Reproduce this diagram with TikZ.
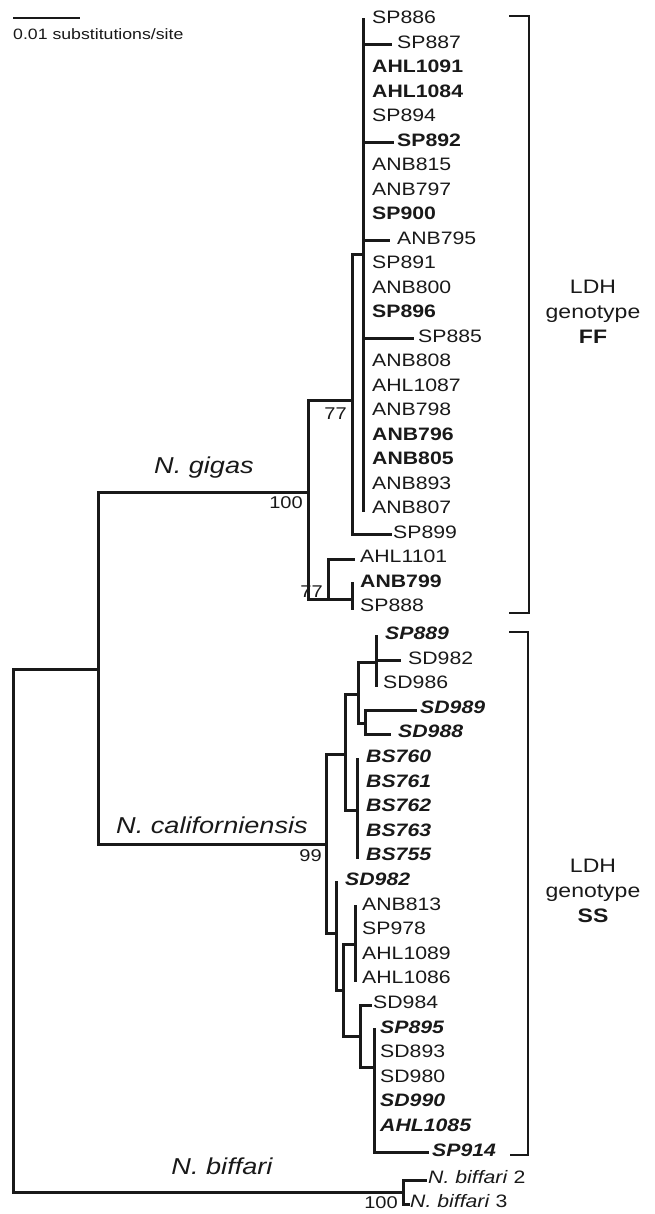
\documentclass[tikz,border=0pt]{standalone}
\usepackage{fontspec}
\setmainfont{Liberation Sans}[FakeStretch=1.18]
\newcommand{\bfit}{\bfseries\itshape}
\begin{document}
\begin{tikzpicture}[x=1pt,y=-1pt,
  br/.style={line width=3pt, line join=miter, line cap=rect, color=black!90},
  bk/.style={line width=2.6pt, line join=miter, color=black!90},
  leaf/.style={anchor=west, inner sep=0pt, text height=0.72em, text depth=0pt, font=\fontsize{18}{20}\selectfont, text=black!90},
  boot/.style={anchor=east, inner sep=0pt, text height=0.72em, text depth=0pt, font=\fontsize{17}{18}\selectfont, text=black!90},
  spec/.style={inner sep=0pt, font=\fontsize{23}{26}\selectfont\itshape, text=black!90},
  ldh/.style={inner sep=0pt, align=center, font=\fontsize{19.5}{25}\selectfont, text=black!90}]
\useasboundingbox (0,0) rectangle (655,1214);
% scale bar
\coordinate (sb1) at (13,18);
\coordinate (sb2) at (80,18);
\draw[line width=2.2pt, black!90] (sb1) -- (sb2);
\node[anchor=west, inner sep=0pt, font=\fontsize{15}{16}\selectfont, text=black!90] (sbl) at (13,34) {0.01 substitutions/site};
% FF leaves
\node[leaf] (f0) at (372,20) {SP886};
\node[leaf] (f1) at (397,44.5) {SP887};
\node[leaf] (f2) at (372,69) {\bfseries AHL1091};
\node[leaf] (f3) at (372,93.5) {\bfseries AHL1084};
\node[leaf] (f4) at (372,118) {SP894};
\node[leaf] (f5) at (397,142.5) {\bfseries SP892};
\node[leaf] (f6) at (372,167) {ANB815};
\node[leaf] (f7) at (372,191.5) {ANB797};
\node[leaf] (f8) at (372,216) {\bfseries SP900};
\node[leaf] (f9) at (397,240.5) {ANB795};
\node[leaf] (f10) at (372,265) {SP891};
\node[leaf] (f11) at (372,289.5) {ANB800};
\node[leaf] (f12) at (372,314) {\bfseries SP896};
\node[leaf] (f13) at (418,338.5) {SP885};
\node[leaf] (f14) at (372,363) {ANB808};
\node[leaf] (f15) at (372,387.5) {AHL1087};
\node[leaf] (f16) at (372,412) {ANB798};
\node[leaf] (f17) at (372,436.5) {\bfseries ANB796};
\node[leaf] (f18) at (372,461) {\bfseries ANB805};
\node[leaf] (f19) at (372,485.5) {ANB893};
\node[leaf] (f20) at (372,510) {ANB807};
\node[leaf] (f21) at (393,534.5) {SP899};
\node[leaf] (f22) at (360,559) {AHL1101};
\node[leaf] (f23) at (360,583.5) {\bfseries ANB799};
\node[leaf] (f24) at (360,608) {SP888};
% SS leaves
\node[leaf] (s0) at (385,636) {\bfit SP889};
\node[leaf] (s1) at (408,660.6) {SD982};
\node[leaf] (s2) at (383,685) {SD986};
\node[leaf] (s3) at (420,710) {\bfit SD989};
\node[leaf] (s4) at (398,734) {\bfit SD988};
\node[leaf] (s5) at (366,759) {\bfit BS760};
\node[leaf] (s6) at (366,783.6) {\bfit BS761};
\node[leaf] (s7) at (366,808) {\bfit BS762};
\node[leaf] (s8) at (366,833) {\bfit BS763};
\node[leaf] (s9) at (366,857) {\bfit BS755};
\node[leaf] (s10) at (345,882) {\bfit SD982};
\node[leaf] (s11) at (362,906.6) {ANB813};
\node[leaf] (s12) at (362,931) {SP978};
\node[leaf] (s13) at (362,956) {AHL1089};
\node[leaf] (s14) at (362,980) {AHL1086};
\node[leaf] (s15) at (373,1005) {SD984};
\node[leaf] (s16) at (380,1029.6) {\bfit SP895};
\node[leaf] (s17) at (380,1054) {SD893};
\node[leaf] (s18) at (380,1079) {SD980};
\node[leaf] (s19) at (380,1103) {\bfit SD990};
\node[leaf] (s20) at (380,1128) {\bfit AHL1085};
\node[leaf] (s21) at (432,1152.6) {\bfit SP914};
\node[leaf] (b2) at (428,1180) {\itshape N. biffari\/\upshape\ 2};
\node[leaf] (b3) at (410,1204) {\itshape N. biffari\/\upshape\ 3};
% internal nodes
\coordinate (A) at (363,255);
\coordinate (B) at (352,400);
\coordinate (C) at (308,492);
\coordinate (D) at (328,599);
\coordinate (E) at (352,599);
\coordinate (G) at (98,669);
\coordinate (R) at (13,1192);
\coordinate (Bf) at (403,1192);
\coordinate (Nc) at (326,844);
\coordinate (N1) at (376,662);
\coordinate (N2) at (365,723);
\coordinate (N3) at (358,694);
\coordinate (N4) at (345,754);
\coordinate (N5) at (357,810);
\coordinate (N7) at (336,933);
\coordinate (N8) at (343,990);
\coordinate (N9) at (355,944);
\coordinate (N10) at (360,1036);
\coordinate (N11) at (374,1067);
% FF clade
\draw[br] (A|-f0) -- (A|-f20);
\draw[br] (A|-f1) -- ([xshift=-7pt]f1.west);
\draw[br] (A|-f5) -- ([xshift=-5pt]f5.west);
\draw[br] (A|-f9) -- ([xshift=-9pt]f9.west);
\draw[br] (A|-f13) -- ([xshift=-6pt]f13.west);
\draw[br] (A) -- (B|-A) -- (B|-f21) -- ([xshift=-3pt]f21.west);
\draw[br] (B) -- (C|-B) -- (C|-D) -- (E);
\draw[br] (D) -- (D|-f22) -- ([xshift=-7pt]f22.west);
\draw[br] (E|-f23) -- (E|-f24);
% backbone
\draw[br] (C) -- (G|-C) -- (G|-Nc) -- (Nc);
\draw[br] (G) -- (R|-G) -- (R) -- (Bf);
\draw[br] ([xshift=-3pt]b2.west) -- (Bf|-b2) -- (Bf|-b3) -- ([xshift=-2pt]b3.west);
% SS clade
\draw[br] (N1|-s0) -- (N1|-s2);
\draw[br] (N1|-s1) -- ([xshift=-9pt]s1.west);
\draw[br] (N2|-s3) -- (N2|-s4);
\draw[br] (N2|-s3) -- ([xshift=-5pt]s3.west);
\draw[br] (N2|-s4) -- ([xshift=-9pt]s4.west);
\draw[br] (N1) -- (N3|-N1) -- (N3|-N2) -- (N2);
\draw[br] (N3) -- (N4|-N3) -- (N4|-N5) -- (N5);
\draw[br] (N5|-s5) -- (N5|-s9);
\draw[br] (N4) -- (Nc|-N4) -- (Nc|-N7) -- (N7);
\draw[br] (N7|-s10) -- (N7|-N8) -- (N8);
\draw[br] (N9) -- (N8|-N9) -- (N8|-N10) -- (N10);
\draw[br] (N9|-s11) -- (N9|-s14);
\draw[br] ([xshift=-3pt]s15.west) -- (N10|-s15) -- (N10|-N11) -- (N11);
\draw[br] (N11|-s16) -- (N11|-s21) -- ([xshift=-5pt]s21.west);
% bootstrap values
\node[boot] (bs1) at (347,416) {77};
\node[boot] (bs2) at (303,505) {100};
\node[boot] (bs3) at (323,594) {77};
\node[boot] (bs4) at (322,858) {99};
\node[boot] (bs5) at (398,1205) {100};
% species names
\node[spec] (sg) at (204,468) {N. gigas};
\node[spec] (sc) at (212,825) {N. californiensis};
\node[spec] (sbf) at (222,1166) {N. biffari};
% brackets
\coordinate (k1) at (529,16);
\coordinate (k2) at (529,613);
\coordinate (k3) at (528,632);
\coordinate (k4) at (528,1155);
\draw[bk] ([xshift=-20pt]k1) -- (k1) -- (k2) -- ([xshift=-20pt]k2);
\draw[bk] ([xshift=-19pt]k3) -- (k3) -- (k4) -- ([xshift=-18pt]k4);
\node[ldh] (ff) at (593,312) {LDH\\genotype\\\textbf{FF}};
\node[ldh] (ss) at (593,891) {LDH\\genotype\\\textbf{SS}};
\end{tikzpicture}
\end{document}
